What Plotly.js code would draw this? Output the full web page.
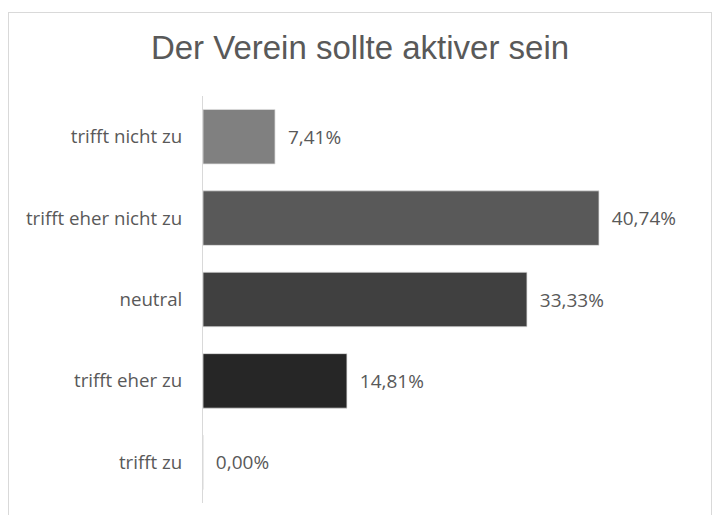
<!DOCTYPE html>
<html>
<head>
<meta charset="utf-8">
<script src="https://cdn.plot.ly/plotly-3.0.1.min.js"></script>
<style>
  html, body { margin: 0; padding: 0; background: #ffffff; }
  #frame { position: absolute; left: 8px; top: 12px; width: 704px; height: 520px; border: 1px solid #d9d9d9; box-sizing: border-box; }
  #chart { position: absolute; left: 0; top: 0; width: 720px; height: 515px; }
</style>
</head>
<body>
<div id="frame"></div>
<div id="chart"></div>
<script>
const categories = ["trifft nicht zu", "trifft eher nicht zu", "neutral", "trifft eher zu", "trifft zu"];
const values = [7.41, 40.74, 33.33, 14.81, 0.00];
const barColors = ["#808080", "#595959", "#404040", "#262626", "#0d0d0d"];
const chartTitle = "Der Verein sollte aktiver sein";

const trace = {
  type: "bar",
  orientation: "h",
  y: categories,
  x: values,
  marker: { color: barColors, line: { color: "#e0e0e0", width: 0.75 } },
  texttemplate: "\u00a0\u00a0%{x:.2f}%",
  textposition: "outside",
  cliponaxis: false,
  textfont: { family: "Open Sans, Liberation Sans, sans-serif", size: 19, color: "#595959" },
  hoverinfo: "none"
};

const layout = {
  width: 720, height: 515,
  paper_bgcolor: "rgba(0,0,0,0)",
  plot_bgcolor: "rgba(0,0,0,0)",
  separators: ",.",
  margin: { l: 203, r: 31, t: 96, b: 12 },
  bargap: 0.33,
  showlegend: false,
  title: {
    text: chartTitle,
    font: { family: "Liberation Sans, Arial, sans-serif", size: 33, color: "#595959" },
    x: 0.5, xref: "container", xanchor: "center",
    y: 1 - 47 / 515, yref: "container", yanchor: "middle"
  },
  xaxis: {
    range: [0, 50],
    showticklabels: false, showgrid: false, zeroline: false, showline: false, fixedrange: true
  },
  yaxis: {
    type: "category",
    autorange: "reversed",
    showline: true, linecolor: "#d9d9d9", linewidth: 1,
    showgrid: false, zeroline: false, ticks: "",
    ticklabelstandoff: 16,
    tickfont: { family: "Open Sans, Liberation Sans, sans-serif", size: 18.7, color: "#595959" },
    fixedrange: true
  }
};

Plotly.newPlot("chart", [trace], layout, { displayModeBar: false, staticPlot: true });
</script>
</body>
</html>
